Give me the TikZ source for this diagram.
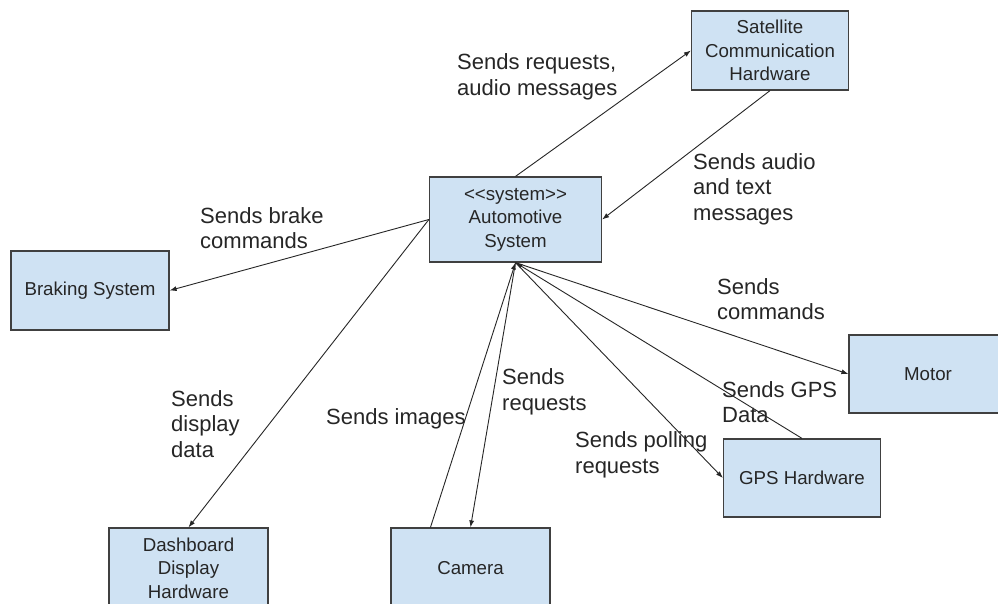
\documentclass[tikz,border=0pt]{standalone}
\usepackage{fontspec}
\setmainfont{Liberation Sans}
\usetikzlibrary{arrows.meta,calc}
\definecolor{boxfill}{HTML}{CFE2F3}
\definecolor{boxdraw}{HTML}{404040}
\definecolor{linecol}{HTML}{262626}
\begin{document}
\begin{tikzpicture}[x=1pt,y=-1pt,
  box/.style={draw=boxdraw, line width=1.2pt, fill=boxfill, inner sep=0pt,
    align=center, font=\fontsize{18.7}{23.5}\selectfont, text=black!85},
  lbl/.style={inner sep=0pt, anchor=west, align=left,
    font=\fontsize{22}{25.5}\selectfont, text=black!85},
  conn/.style={draw=linecol, line width=0.9pt, -{Latex[length=7pt,width=5pt]}},
  plain/.style={draw=linecol, line width=0.9pt}]
\useasboundingbox[fill=white] (0,0) rectangle (998,603);

\node[box, minimum width=157pt, minimum height=79pt] (sat) at (770,50.5) {Satellite\\Communication\\Hardware};
\node[box, minimum width=172pt, minimum height=85pt] (auto) at (515.5,219.5) {<{}<system>{}>\\Automotive\\System};
\node[box, minimum width=158pt, minimum height=79pt] (brake) at (90,290.5) {Braking System};
\node[box, minimum width=159pt, minimum height=80pt] (dash) at (188.5,568) {Dashboard\\Display\\Hardware};
\node[box, minimum width=159pt, minimum height=80pt] (cam) at (470.5,568) {Camera};
\node[box, minimum width=158pt, minimum height=78pt] (motor) at (928,374) {Motor};
\node[box, minimum width=157pt, minimum height=78pt] (gps) at (802,478) {GPS Hardware};

\coordinate (camout) at ($(cam.north west)!0.25!(cam.north east)$);

\draw[conn] (auto.north) -- (sat.west);
\draw[conn] (sat.south) -- (auto.east);
\draw[conn] (auto.west) -- (brake.east);
\draw[conn] (auto.west) -- (dash.north);
\draw[conn] (camout) -- (auto.south);
\draw[conn] (auto.south) -- (cam.north);
\draw[conn] (auto.south) -- (motor.west);
\draw[conn] (gps.north) -- (auto.south);
\draw[conn] (auto.south) -- (gps.west);

\node[lbl] (l1) at (457,77) {Sends requests,\\audio messages};
\node[lbl] (l2) at (693,189) {Sends audio\\and text\\messages};
\node[lbl] (l3) at (200,228) {Sends brake\\commands};
\node[lbl] (l4) at (171,424) {Sends\\display\\data};
\node[lbl] (l5) at (326,419) {Sends images};
\node[lbl] (l6) at (502,392) {Sends\\requests};
\node[lbl] (l7) at (575,455) {Sends polling\\requests};
\node[lbl] (l8) at (717,299) {Sends\\commands};
\node[lbl] (l9) at (722,402) {Sends GPS\\Data};
\end{tikzpicture}
\end{document}
